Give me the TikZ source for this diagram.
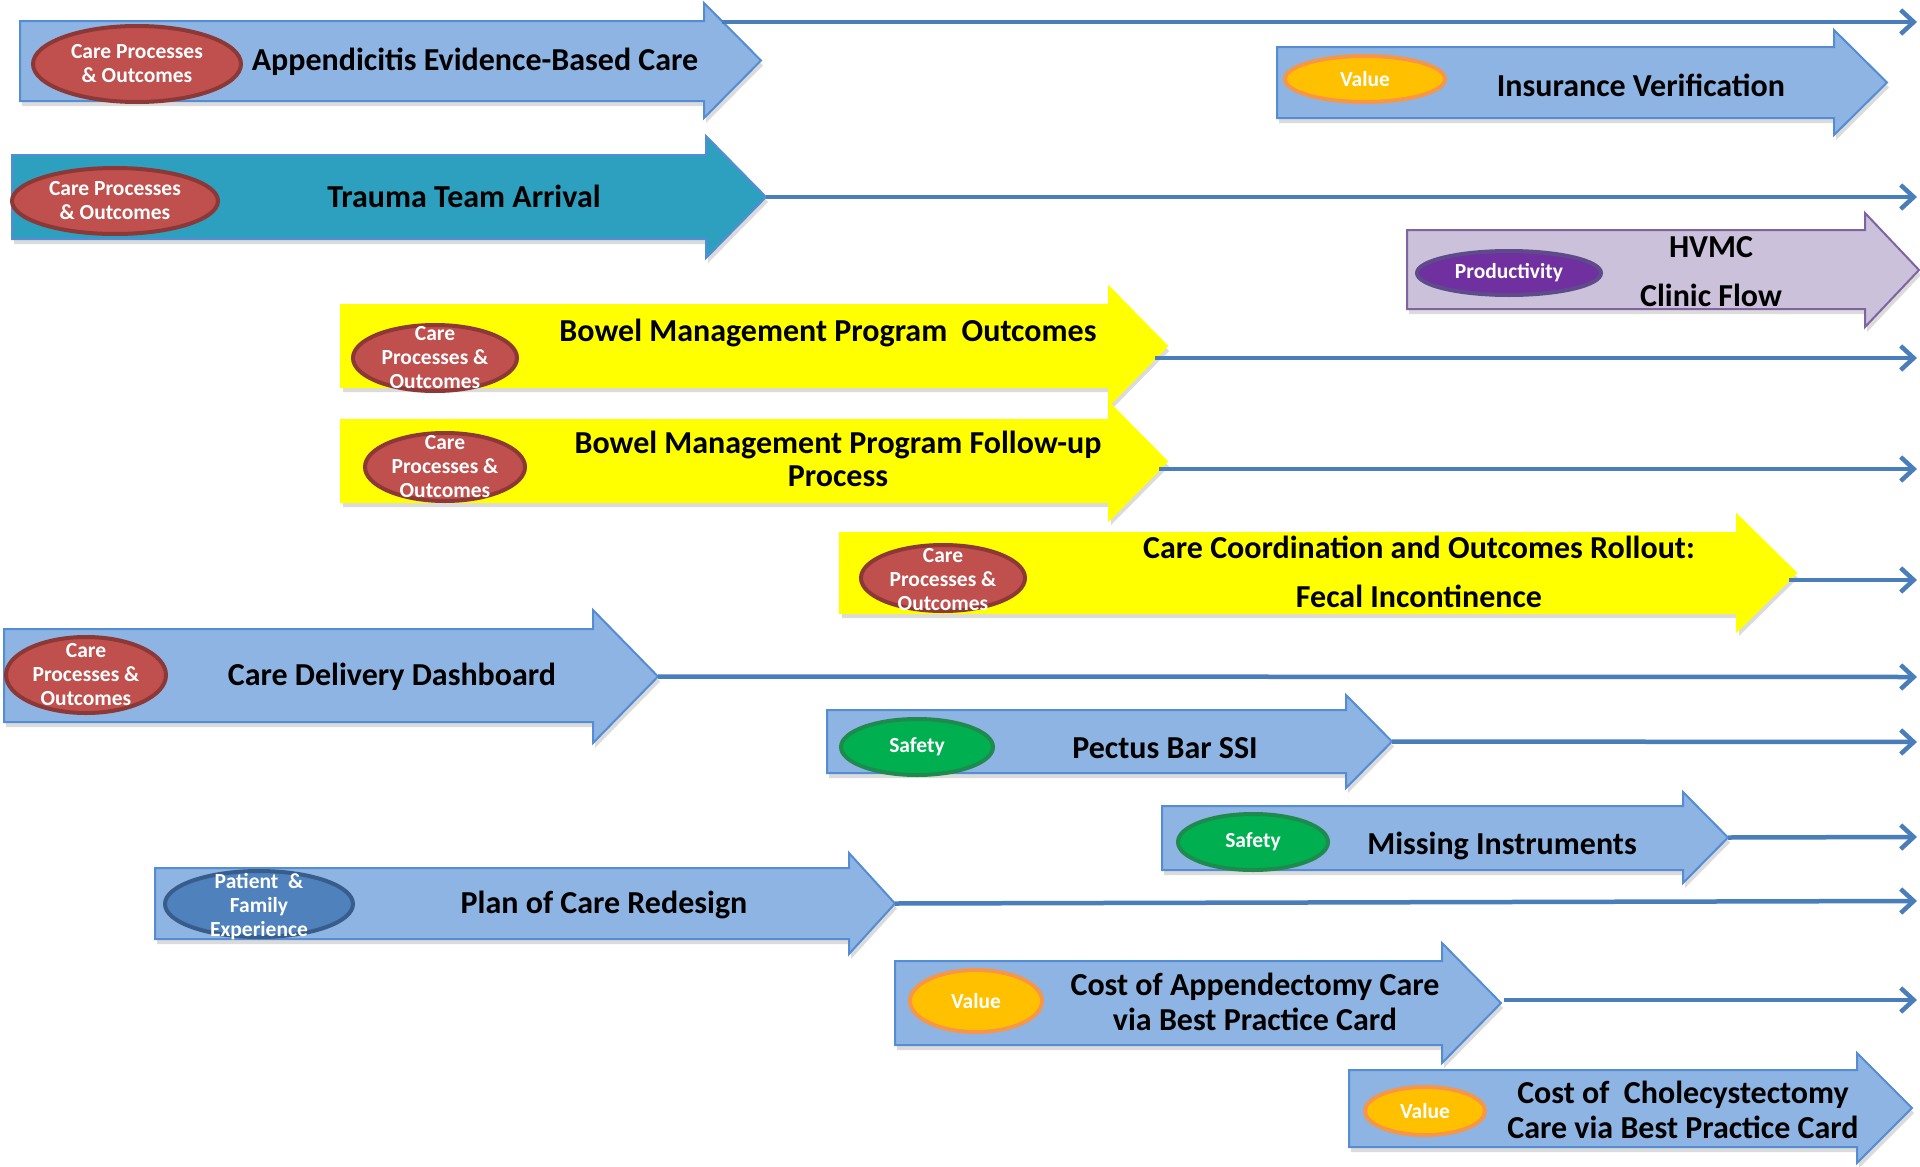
\documentclass[tikz,border=0pt]{standalone}
\usepackage{fontspec}
\setmainfont{Carlito}
\usetikzlibrary{shapes.geometric,shadows,arrows.meta}
\definecolor{bfill}{RGB}{141,180,226}
\definecolor{bdraw}{RGB}{84,141,212}
\definecolor{tfill}{RGB}{44,160,190}
\definecolor{yfill}{RGB}{255,255,0}
\definecolor{lfill}{RGB}{204,193,218}
\definecolor{ldraw}{RGB}{128,100,162}
\definecolor{lcol}{RGB}{74,126,187}
\definecolor{rfill}{RGB}{192,80,77}
\definecolor{rdraw}{RGB}{140,56,54}
\definecolor{vfill}{RGB}{255,192,0}
\definecolor{vdraw}{RGB}{247,150,70}
\definecolor{gfill}{RGB}{0,176,80}
\definecolor{gdraw}{RGB}{30,138,78}
\definecolor{pfill}{RGB}{112,48,160}
\definecolor{pdraw}{RGB}{95,75,139}
\definecolor{efill}{RGB}{79,129,189}
\definecolor{edraw}{RGB}{56,93,138}
\newcommand\blkarrow[9]{%
  \path[#2] (#3,#4) -- (#6,#4) -- (#6,#7) -- (#9,{(#7+#8)/2}) -- (#6,#8) -- (#6,#5) -- (#3,#5) -- cycle;
  \coordinate (#1-tip) at (#9,{(#7+#8)/2});
}
\tikzset{
  arr/.style={line width=2pt, line join=miter, drop shadow={opacity=0.28, shadow xshift=2pt, shadow yshift=-5pt}},
  bluearr/.style={arr, fill=bfill, draw=bdraw},
  tealarr/.style={arr, fill=tfill, draw=bdraw},
  yelarr/.style={arr, fill=yfill, draw=yfill},
  lavarr/.style={arr, fill=lfill, draw=ldraw},
  conn/.style={draw=lcol, line width=4.5pt, -{Straight Barb[length=13pt,width=24pt]}},
  ell/.style={ellipse, line width=4pt, inner sep=0pt},
  redell/.style={ell, fill=rfill, draw=rdraw},
  valell/.style={ell, fill=vfill, draw=vdraw},
  safell/.style={ell, fill=gfill, draw=gdraw},
  proell/.style={ell, fill=pfill, draw=pdraw},
  patell/.style={ell, fill=efill, draw=edraw},
  elltxt/.style={text=white, font=\fontsize{21.5}{24}\selectfont\bfseries, align=center, inner sep=0pt},
  ttl/.style={font=\fontsize{32}{35}\selectfont\bfseries, align=center, inner sep=0pt}
}
\begin{document}
\begin{tikzpicture}[x=1pt,y=-1pt]
\useasboundingbox (0,0) rectangle (1920,1167);
\fill[white] (0,0) rectangle (1920,1167);

% block arrows
\blkarrow{a1}{bluearr}{20}{21}{101}{704}{3}{118}{761}
\blkarrow{a2}{tealarr}{12}{155}{239}{706}{136}{258}{766}
\blkarrow{a3}{bluearr}{1277}{47}{118}{1834}{30}{135}{1887}
\blkarrow{a4}{lavarr}{1407}{230}{309}{1865}{213}{327}{1919}
\blkarrow{a5}{yelarr}{341}{305}{387}{1109}{287}{405}{1167}
\blkarrow{a6}{yelarr}{341}{420}{502}{1109}{403}{520}{1167}
\blkarrow{a7}{yelarr}{840}{533}{613}{1737}{515}{631}{1796}
\blkarrow{a8}{bluearr}{4}{629}{722}{593}{610}{743}{658}
\blkarrow{a9}{bluearr}{827}{710}{773}{1346}{695}{788}{1392}
\blkarrow{a10}{bluearr}{1162}{806}{870}{1683}{792}{883}{1728}
\blkarrow{a11}{bluearr}{155}{868}{939}{849}{853}{954}{895}
\blkarrow{a12}{bluearr}{895}{961}{1045}{1442}{943}{1063}{1501}
\blkarrow{a13}{bluearr}{1349}{1070}{1147}{1857}{1053}{1163}{1912}

% connector coordinates
\coordinate (s1) at (722,22);   \coordinate (e1) at (1917,22);
\coordinate (e2) at (1917,197);
\coordinate (s5) at (1155,358); \coordinate (e5) at (1917,358);
\coordinate (s6) at (1159,469); \coordinate (e6) at (1917,469);
\coordinate (s7) at (1789,580); \coordinate (e7) at (1917,580);
\coordinate (e8) at (1917,677);
\coordinate (e9) at (1917,742);
\coordinate (e10) at (1917,837);
\coordinate (e11) at (1917,901);
\coordinate (s12) at (1504,1000); \coordinate (e12) at (1917,1000);

\draw[conn] (s1) -- (e1);
\draw[conn] (a2-tip) -- (e2);
\draw[conn] (s5) -- (e5);
\draw[conn] (s6) -- (e6);
\draw[conn] (s7) -- (e7);
\draw[conn] (a8-tip) -- (e8);
\draw[conn] (a9-tip) -- (e9);
\draw[conn] (a10-tip) -- (e10);
\draw[conn] (a11-tip) -- (e11);
\draw[conn] (s12) -- (e12);

% ellipses
\node[redell, minimum width=208, minimum height=76] (c1) at (137,64) {};
\node[elltxt] (c1t) at (c1) {Care Processes\\\& Outcomes};
\node[redell, minimum width=206, minimum height=66] (c2) at (115,201) {};
\node[elltxt] (c2t) at (c2) {Care Processes\\\& Outcomes};
\node[valell, minimum width=160, minimum height=46] (c3) at (1365,79) {};
\node[elltxt] (c3t) at (c3) {Value};
\node[proell, minimum width=184, minimum height=44] (c4) at (1509,273) {};
\node[elltxt] (c4t) at (c4) {Productivity};
\node[redell, minimum width=164, minimum height=66] (c5) at (435,358) {};
\node[elltxt] (c5t) at (c5) {Care\\Processes \&\\Outcomes};
\node[redell, minimum width=160, minimum height=68] (c6) at (445,467) {};
\node[elltxt] (c6t) at (c6) {Care\\Processes \&\\Outcomes};
\node[redell, minimum width=164, minimum height=66] (c7) at (943,578) {};
\node[elltxt] (c7t) at (943,580) {Care\\Processes \&\\Outcomes};
\node[redell, minimum width=160, minimum height=76] (c8) at (86,675) {};
\node[elltxt] (c8t) at (c8) {Care\\Processes \&\\Outcomes};
\node[safell, minimum width=152, minimum height=56] (c9) at (917,747) {};
\node[elltxt] (c9t) at (c9) {Safety};
\node[safell, minimum width=150, minimum height=56] (c10) at (1253,842) {};
\node[elltxt] (c10t) at (c10) {Safety};
\node[patell, minimum width=188, minimum height=66] (c11) at (259,904) {};
\node[elltxt] (c11t) at (259,907) {Patient~ \&\\Family\\Experience};
\node[valell, minimum width=132, minimum height=62] (c12) at (976,1001) {};
\node[elltxt] (c12t) at (c12) {Value};
\node[valell, minimum width=120, minimum height=48] (c13) at (1425,1111) {};
\node[elltxt] (c13t) at (c13) {Value};

% titles
\node[ttl] (t1) at (475,62) {Appendicitis Evidence-Based Care};
\node[ttl] (t2) at (464,196) {Trauma Team Arrival};
\node[ttl] (t3) at (1641,85) {Insurance Verification};
\node[ttl, font=\fontsize{32}{49}\selectfont\bfseries] (t4) at (1711,272) {HVMC\\Clinic Flow};
\node[ttl] (t5) at (828,333) {Bowel Management Program~ Outcomes};
\node[ttl, font=\fontsize{32}{33}\selectfont\bfseries] (t6) at (838,459) {Bowel Management Program Follow-up\\Process};
\node[ttl, font=\fontsize{32}{49}\selectfont\bfseries] (t7) at (1419,572) {Care Coordination and Outcomes Rollout:\\Fecal Incontinence};
\node[ttl] (t8) at (392,677) {Care Delivery Dashboard};
\node[ttl] (t9) at (1165,748) {Pectus Bar SSI};
\node[ttl] (t10) at (1502,846) {Missing Instruments};
\node[ttl] (t11) at (604,905) {Plan of Care Redesign};
\node[ttl] (t12) at (1255,1002) {Cost of Appendectomy Care\\via Best Practice Card};
\node[ttl] (t13) at (1683,1110) {Cost of~ Cholecystectomy\\Care via Best Practice Card};
\end{tikzpicture}
\end{document}
